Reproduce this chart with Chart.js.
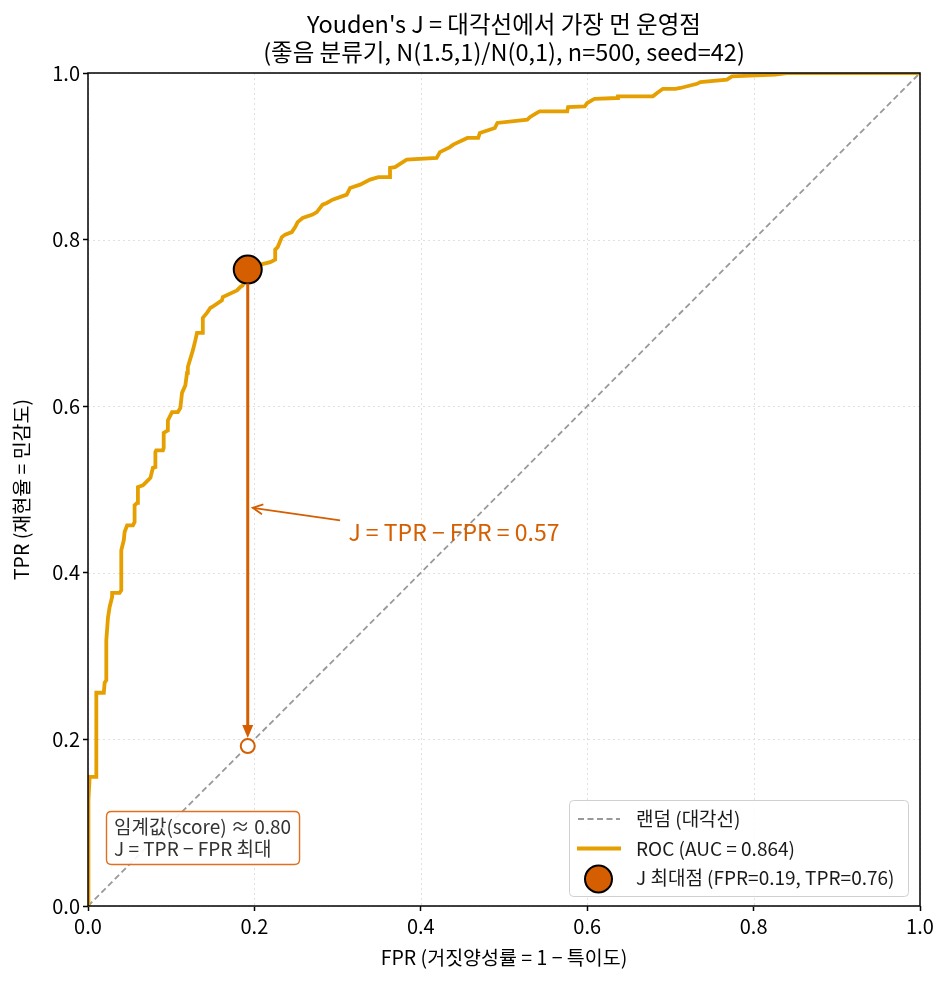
<!DOCTYPE html>
<html><head><meta charset="utf-8">
<script src="https://cdn.jsdelivr.net/npm/chart.js@4/dist/chart.umd.min.js"></script>
<style>html,body{margin:0;padding:0;background:#fff}canvas{display:block}</style>
</head><body>
<canvas id="c" width="947" height="982"></canvas>
<script>
const titleLines = ["Youden's J = 대각선에서 가장 먼 운영점", "(좋음 분류기, N(1.5,1)/N(0,1), n=500, seed=42)"];
const xLabel = "FPR (거짓양성률 = 1 − 특이도)";
const yLabel = "TPR (재현율 = 민감도)";
const tickValues = [0, 0.2, 0.4, 0.6, 0.8, 1.0];
const rocFpr = [0,0,0.001,0.002,0.010,0.010,0.019,0.020,0.022,0.022,0.024,0.026,0.029,0.029,0.038,0.040,0.040,0.043,0.044,0.047,
0.054,0.056,0.056,0.059,0.060,0.066,0.072,0.075,0.078,0.081,0.081,0.082,0.090,0.091,0.091,0.096,0.096,0.101,0.108,0.111,
0.113,0.117,0.119,0.120,0.126,0.129,0.131,0.138,0.138,0.143,0.147,0.149,0.161,0.162,0.179,0.183,0.186,0.192,0.207,0.219,
0.225,0.225,0.228,0.233,0.237,0.245,0.249,0.252,0.258,0.270,0.275,0.282,0.287,0.294,0.311,0.315,0.327,0.339,0.349,0.363,
0.363,0.369,0.383,0.419,0.423,0.435,0.439,0.456,0.469,0.471,0.489,0.492,0.528,0.531,0.541,0.543,0.576,0.577,0.597,0.600,
0.607,0.609,0.636,0.637,0.679,0.684,0.691,0.706,0.712,0.732,0.736,0.768,0.774,0.826,0.840,1.0];
const rocTpr = [0,0.055,0.127,0.155,0.155,0.256,0.256,0.268,0.271,0.319,0.346,0.359,0.371,0.376,0.376,0.379,0.427,0.439,0.449,0.457,
0.457,0.461,0.481,0.484,0.503,0.505,0.511,0.514,0.526,0.527,0.545,0.547,0.547,0.550,0.568,0.571,0.583,0.593,0.593,0.598,
0.616,0.625,0.640,0.647,0.667,0.679,0.688,0.688,0.706,0.712,0.718,0.719,0.727,0.731,0.739,0.743,0.745,0.764,0.770,0.773,
0.776,0.788,0.791,0.803,0.806,0.809,0.815,0.821,0.826,0.830,0.833,0.842,0.844,0.848,0.854,0.862,0.866,0.872,0.875,0.875,
0.886,0.887,0.896,0.898,0.905,0.911,0.914,0.922,0.922,0.928,0.934,0.940,0.944,0.947,0.953,0.954,0.954,0.959,0.960,0.964,
0.968,0.969,0.970,0.972,0.972,0.976,0.981,0.981,0.982,0.987,0.989,0.992,0.996,0.998,1.0,1.0];
const diagFpr = [0, 1];
const diagTpr = [0, 1];
const jBest = {fpr: 0.192, tpr: 0.764};
const jValue = 0.57;
const aucValue = 0.864;
const thresholdValue = 0.80;
const legendLabels = ["랜덤 (대각선)", "ROC (AUC = " + aucValue.toFixed(3) + ")", "J 최대점 (FPR=" + jBest.fpr.toFixed(2) + ", TPR=" + jBest.tpr.toFixed(2) + ")"];
const annText = "J = TPR − FPR = " + jValue.toFixed(2);
const boxLines = ["임계값(score) ≈ " + thresholdValue.toFixed(2), "J = TPR − FPR 최대"];

const FONT = "'Noto Sans CJK KR', 'Noto Sans', sans-serif";
const C_ROC = '#E69F00', C_J = '#D55E00', C_DIAG = '#999999';

const pts = (xs, ys) => xs.map((x, i) => ({x, y: ys[i]}));

function arrowHead(ctx, tx, ty, ang, len, wid, filled) {
  ctx.beginPath();
  const bx = tx - len * Math.cos(ang), by = ty - len * Math.sin(ang);
  const px = -Math.sin(ang) * wid / 2, py = Math.cos(ang) * wid / 2;
  if (filled) {
    ctx.moveTo(tx, ty); ctx.lineTo(bx + px, by + py); ctx.lineTo(bx - px, by - py); ctx.closePath(); ctx.fill();
  } else {
    ctx.moveTo(bx + px, by + py); ctx.lineTo(tx, ty); ctx.lineTo(bx - px, by - py); ctx.stroke();
  }
}
function roundRect(ctx, x, y, w, h, r) {
  ctx.beginPath();
  ctx.moveTo(x + r, y); ctx.lineTo(x + w - r, y); ctx.quadraticCurveTo(x + w, y, x + w, y + r);
  ctx.lineTo(x + w, y + h - r); ctx.quadraticCurveTo(x + w, y + h, x + w - r, y + h);
  ctx.lineTo(x + r, y + h); ctx.quadraticCurveTo(x, y + h, x, y + h - r);
  ctx.lineTo(x, y + r); ctx.quadraticCurveTo(x, y, x + r, y); ctx.closePath();
}

const decor = {
  id: 'decor',
  beforeDatasetsDraw(chart) {
    const {ctx, chartArea: a, scales: {x, y}} = chart;
    ctx.save();
    ctx.strokeStyle = '#e0e0e0'; ctx.lineWidth = 1; ctx.setLineDash([2, 3]);
    tickValues.forEach(v => {
      const px = Math.round(x.getPixelForValue(v)) + 0.5;
      ctx.beginPath(); ctx.moveTo(px, a.top); ctx.lineTo(px, a.bottom); ctx.stroke();
      const py = Math.round(y.getPixelForValue(v)) + 0.5;
      ctx.beginPath(); ctx.moveTo(a.left, py); ctx.lineTo(a.right, py); ctx.stroke();
    });
    ctx.restore();
  },
  afterDatasetsDraw(chart) {
    const {ctx, chartArea: a, scales: {x, y}} = chart;
    ctx.save();
    // vertical J arrow
    const jx = x.getPixelForValue(jBest.fpr), jy = y.getPixelForValue(jBest.tpr);
    const by = y.getPixelForValue(jBest.fpr);
    ctx.strokeStyle = C_J; ctx.fillStyle = C_J; ctx.lineWidth = 3;
    ctx.beginPath(); ctx.moveTo(jx, jy + 14); ctx.lineTo(jx, by - 18); ctx.stroke();
    arrowHead(ctx, jx, by - 8, Math.PI / 2, 13, 11, true);
    // annotation arrow
    const hx = x.getPixelForValue(0.198), hy = y.getPixelForValue(0.478);
    const tx = x.getPixelForValue(0.303), ty = y.getPixelForValue(0.463);
    ctx.lineWidth = 1.8;
    ctx.beginPath(); ctx.moveTo(tx, ty); ctx.lineTo(hx, hy); ctx.stroke();
    arrowHead(ctx, hx, hy, Math.atan2(hy - ty, hx - tx), 10, 10, false);
    ctx.font = '23px ' + FONT; ctx.textBaseline = 'middle'; ctx.textAlign = 'left';
    ctx.fillText(annText, x.getPixelForValue(0.313), y.getPixelForValue(0.449));
    // threshold box
    ctx.font = '19px ' + FONT;
    const bw = Math.max(...boxLines.map(s => ctx.measureText(s).width)) + 16;
    roundRect(ctx, 106.5, 811.5, bw, 53, 5);
    ctx.fillStyle = 'rgba(255,255,255,0.9)'; ctx.fill();
    ctx.strokeStyle = '#E07020'; ctx.lineWidth = 1.4; ctx.stroke();
    ctx.fillStyle = '#333';
    ctx.fillText(boxLines[0], 114, 827); ctx.fillText(boxLines[1], 114, 849);
    // frame
    ctx.strokeStyle = '#000'; ctx.lineWidth = 1.5; ctx.setLineDash([]);
    ctx.strokeRect(a.left, a.top, a.right - a.left, a.bottom - a.top);
    // legend
    roundRect(ctx, 569.5, 800.5, 339, 96, 4);
    ctx.fillStyle = 'rgba(255,255,255,0.85)'; ctx.fill();
    ctx.strokeStyle = '#d0d0d0'; ctx.lineWidth = 1; ctx.stroke();
    ctx.strokeStyle = C_DIAG; ctx.lineWidth = 1.8; ctx.setLineDash([6, 3.5]);
    ctx.beginPath(); ctx.moveTo(578, 819); ctx.lineTo(620, 819); ctx.stroke();
    ctx.setLineDash([]);
    ctx.strokeStyle = C_ROC; ctx.lineWidth = 3.8;
    ctx.beginPath(); ctx.moveTo(577, 848.5); ctx.lineTo(621, 848.5); ctx.stroke();
    ctx.beginPath(); ctx.arc(598.5, 879, 13.5, 0, Math.PI * 2);
    ctx.fillStyle = C_J; ctx.fill(); ctx.strokeStyle = '#000'; ctx.lineWidth = 2; ctx.stroke();
    ctx.fillStyle = '#1a1a1a'; ctx.font = '19px ' + FONT;
    ctx.fillText(legendLabels[0], 636, 819);
    ctx.fillText(legendLabels[1], 636, 849);
    ctx.fillText(legendLabels[2], 636, 878);
    ctx.restore();
  },
  afterDraw(chart) {
    const {ctx, chartArea: a} = chart;
    ctx.save();
    ctx.fillStyle = '#000'; ctx.textAlign = 'center'; ctx.textBaseline = 'middle';
    const cx = (a.left + a.right) / 2;
    ctx.font = '23.5px ' + FONT;
    ctx.fillText(titleLines[0], cx, 24);
    ctx.fillText(titleLines[1], cx, 52);
    ctx.font = '19.5px ' + FONT;
    ctx.fillText(xLabel, cx, 958);
    ctx.translate(22, (a.top + a.bottom) / 2); ctx.rotate(-Math.PI / 2);
    ctx.fillText(yLabel, 0, 0);
    ctx.restore();
  }
};

const axisCommon = {
  type: 'linear', min: 0, max: 1,
  grid: {display: true, drawOnChartArea: false, drawTicks: true, tickLength: 5, tickColor: '#000', tickWidth: 1.5},
  border: {display: false},
  ticks: {stepSize: 0.2, color: '#000', font: {size: 20, family: FONT}, padding: 3, callback: v => Number(v).toFixed(1)}
};

new Chart(document.getElementById('c'), {
  type: 'scatter',
  data: {
    datasets: [
      {label: legendLabels[2], data: [{x: jBest.fpr, y: jBest.tpr}], pointRadius: 14, pointBackgroundColor: C_J, pointBorderColor: '#000', pointBorderWidth: 2, showLine: false, order: 0},
      {label: 'base', data: [{x: jBest.fpr, y: jBest.fpr}], pointRadius: 7, pointBackgroundColor: '#fff', pointBorderColor: C_J, pointBorderWidth: 2, showLine: false, order: 1},
      {label: legendLabels[1], data: pts(rocFpr, rocTpr), showLine: true, borderColor: C_ROC, borderWidth: 3.8, pointRadius: 0, tension: 0, order: 2},
      {label: legendLabels[0], data: pts(diagFpr, diagTpr), showLine: true, borderColor: C_DIAG, borderWidth: 1.8, borderDash: [6, 3.5], pointRadius: 0, order: 3}
    ]
  },
  options: {
    responsive: false, animation: false, devicePixelRatio: 1,
    layout: {padding: {top: 73, right: 27, left: 0, bottom: 0}},
    plugins: {legend: {display: false}, tooltip: {enabled: false}, title: {display: false}},
    scales: {
      x: Object.assign({}, axisCommon, {afterFit: s => { s.height = 76; }}),
      y: Object.assign({}, axisCommon, {afterFit: s => { s.width = 88; }})
    }
  },
  plugins: [decor]
});
</script>
</body></html>
